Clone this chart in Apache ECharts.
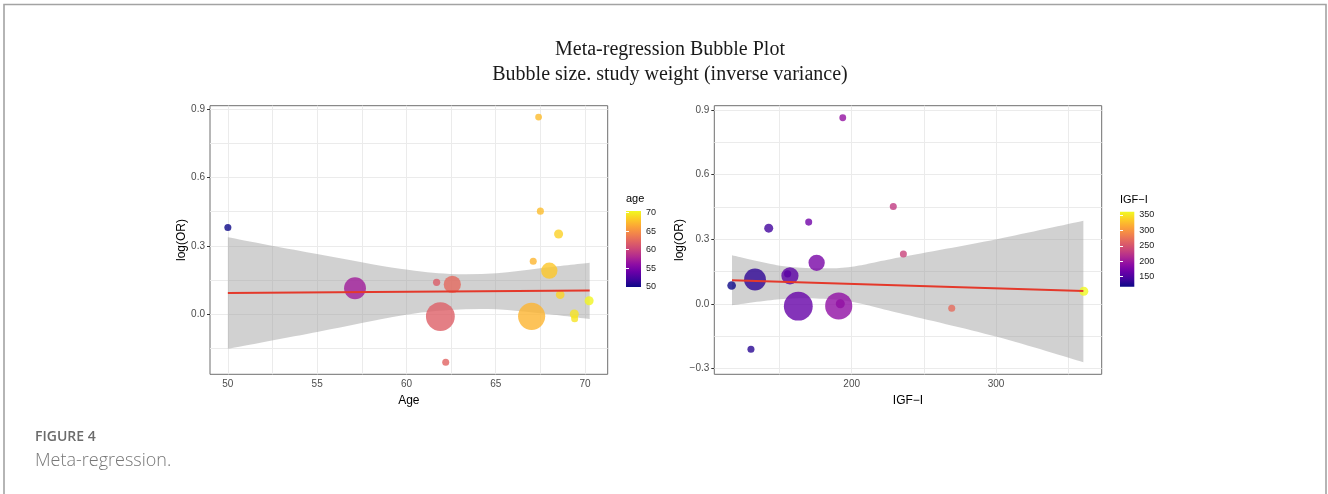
<!DOCTYPE html>
<html>
<head>
<meta charset="utf-8">
<title>Meta-regression Bubble Plot</title>
<script src="https://cdn.jsdelivr.net/npm/echarts@6/dist/echarts.min.js"></script>
<style>
  html, body { margin: 0; padding: 0; background: #fff; }
  #chart { width: 1328px; height: 494px; }
</style>
</head>
<body>
<div id="chart"></div>
<script>
// one entry per study, same order in both panels
const studyAge = [50.0, 57.12, 61.69, 62.57, 61.9, 62.2, 67.4, 67.5, 68.52, 67.1, 68.0, 68.61, 67.01, 69.4, 69.42, 70.23]
const studyIGF = [170.2, 133.0, 155.6, 157.2, 163.0, 130.2, 193.8, 228.8, 142.5, 235.8, 175.7, 116.8, 191.0, 192.1, 269.3, 360.8]
const studyLogOR = [0.38, 0.114, 0.140, 0.131, -0.010, -0.210, 0.864, 0.452, 0.352, 0.232, 0.191, 0.086, -0.009, 0.001, -0.020, 0.059]
const studyWeight = [3.1, 30, 3.3, 18.5, 52, 3.1, 2.9, 3.1, 5.1, 3.1, 16.6, 4.7, 46, 5.1, 3.1, 5.1]

// confidence band and fitted line
const ageBandX = [50, 55.07, 59.64, 62.44, 65.05, 67.48, 70.26]
const ageBandLow = [-0.151, -0.076, -0.006, 0.019, 0.022, 0.004, -0.021]
const ageBandHigh = [0.338, 0.263, 0.199, 0.177, 0.180, 0.202, 0.226]
const ageFitX = [50, 70.26]
const ageFitY = [0.093, 0.104]

const igfBandX = [117.05, 150.3, 178, 200, 233.5, 300.5, 360.5]
const igfBandLow = [-0.006, 0.022, 0.025, 0.011, -0.043, -0.152, -0.27]
const igfBandHigh = [0.226, 0.178, 0.166, 0.173, 0.217, 0.301, 0.386]
const igfFitX = [117.05, 360.5]
const igfFitY = [0.110, 0.060]

// ticks and grid lines
const ageTicks = [50, 55, 60, 65, 70]
const ageMinor = [52.5, 57.5, 62.5, 67.5]
const igfTicks = [200, 300]
const igfMinor = [150, 250, 350]
const logORTicks = [-0.3, 0, 0.3, 0.6, 0.9]
const logORMinor = [-0.15, 0.15, 0.45, 0.75]
const ageLegendTicks = [50, 55, 60, 65, 70]
const igfLegendTicks = [150, 200, 250, 300, 350]

const plasma = ['#0d0887', '#41049d', '#6a00a8', '#8f0da4', '#b12a90', '#cc4778',
  '#e16462', '#f2844b', '#fca636', '#fcce25', '#f0f921']

const FONT = 'Liberation Sans, Arial, sans-serif'
const fmt = v => (Math.abs(v) < 1e-9 ? 0 : v).toFixed(1).replace('-', '\u2212')

function panelAxis(grid, min, max, ticks, name, isY) {
  return {
    type: 'value', gridIndex: grid, min: min, max: max,
    name: name, nameLocation: 'middle', nameGap: isY ? 22 : 17,
    nameTextStyle: { fontFamily: FONT, fontSize: 12, color: '#000' },
    axisLine: { show: false },
    axisTick: { show: true, length: 3, customValues: ticks, lineStyle: { color: '#333' } },
    axisLabel: { customValues: ticks, margin: 5, fontFamily: FONT, fontSize: 10, color: '#4d4d4d',
      formatter: isY ? fmt : v => String(v) },
    splitLine: { show: false }
  }
}

function gridLines(xs, ys) {
  const data = []
  xs.forEach(v => data.push({ xAxis: v }))
  ys.forEach(v => data.push({ yAxis: v }))
  return {
    silent: true, z: 1, symbol: ['none', 'none'], animation: false,
    label: { show: false },
    lineStyle: { color: '#ebebeb', width: 1, type: 'solid' },
    emphasis: { disabled: true },
    data: data
  }
}

// smooth curve through pixel points (catmull-rom as bezier segments)
function curvePath(pts) {
  let d = ''
  for (let i = 0; i < pts.length - 1; i++) {
    const p0 = pts[Math.max(i - 1, 0)], p1 = pts[i], p2 = pts[i + 1], p3 = pts[Math.min(i + 2, pts.length - 1)]
    const c1 = [p1[0] + (p2[0] - p0[0]) / 6, p1[1] + (p2[1] - p0[1]) / 6]
    const c2 = [p2[0] - (p3[0] - p1[0]) / 6, p2[1] - (p3[1] - p1[1]) / 6]
    d += ' C' + c1.join(' ') + ' ' + c2.join(' ') + ' ' + p2.join(' ')
  }
  return d
}

// grey band: upper edge left to right, then lower edge back
function bandSeries(idx, xs, low, high) {
  return {
    type: 'custom', xAxisIndex: idx, yAxisIndex: idx, z: 2, silent: true,
    data: xs.map((v, i) => [v, low[i], high[i]]),
    encode: { x: 0, y: [1, 2] },
    renderItem: (params, api) => {
      if (params.dataIndex !== 0) return null
      const top = xs.map((v, i) => api.coord([v, high[i]]))
      const bottom = xs.map((v, i) => api.coord([v, low[i]])).reverse()
      const d = 'M' + top[0].join(' ') + curvePath(top) +
        ' L' + bottom[0].join(' ') + curvePath(bottom) + ' Z'
      return {
        type: 'path',
        shape: { pathData: d },
        style: { fill: 'rgba(153,153,153,0.45)', stroke: null }
      }
    }
  }
}

function pointSeries(idx, xs) {
  return {
    type: 'scatter', xAxisIndex: idx, yAxisIndex: idx, z: 3,
    data: xs.map((v, i) => [v, studyLogOR[i], studyWeight[i]]),
    symbolSize: v => 4 * Math.sqrt(v[2]),
    itemStyle: { opacity: 0.8 }
  }
}

function fitSeries(idx, xs, ys, xGrid, yGrid) {
  return {
    type: 'line', xAxisIndex: idx, yAxisIndex: idx, z: 4, silent: true,
    data: xs.map((v, i) => [v, ys[i]]),
    symbol: 'none', lineStyle: { color: '#e4392b', width: 2 },
    markLine: gridLines(xGrid, yGrid)
  }
}

function legendAxes(grid, min, max, ticks) {
  return [{
    type: 'value', gridIndex: grid, min: min, max: max, position: 'right',
    axisLine: { show: false }, splitLine: { show: false },
    axisTick: { show: true, inside: true, length: 3, customValues: ticks, lineStyle: { color: '#fff' } },
    axisLabel: { customValues: ticks, margin: 5, fontFamily: FONT, fontSize: 9, color: '#1a1a1a' }
  }, {
    type: 'value', gridIndex: grid, min: min, max: max, position: 'left',
    axisLine: { show: false }, splitLine: { show: false }, axisLabel: { show: false },
    axisTick: { show: true, inside: true, length: 3, customValues: ticks, lineStyle: { color: '#fff' } }
  }]
}

const barFill = () => new echarts.graphic.LinearGradient(0, 1, 0, 0,
  plasma.map((c, i) => ({ offset: i / (plasma.length - 1), color: c })))

const chart = echarts.init(document.getElementById('chart'))

chart.setOption({
  animation: false,
  backgroundColor: '#fff',
  grid: [
    { left: 210, top: 105.7, width: 397.7, height: 268.6, show: true, borderColor: '#6e6e6e', borderWidth: 1 },
    { left: 714.3, top: 105.7, width: 387.4, height: 268.6, show: true, borderColor: '#6e6e6e', borderWidth: 1 },
    { left: 626, top: 211, width: 15, height: 76, show: true, borderWidth: 0, backgroundColor: barFill() },
    { left: 1120, top: 211.7, width: 14.3, height: 75, show: true, borderWidth: 0, backgroundColor: barFill() }
  ],
  xAxis: [
    panelAxis(0, 49.0, 71.27, ageTicks, 'Age', false),
    panelAxis(1, 104.8, 373.2, igfTicks, 'IGF\u2212I', false),
    { type: 'value', gridIndex: 2, min: 0, max: 1, show: false },
    { type: 'value', gridIndex: 3, min: 0, max: 1, show: false }
  ],
  yAxis: [
    panelAxis(0, -0.263, 0.914, logORTicks, 'log(OR)', true),
    panelAxis(1, -0.326, 0.92, logORTicks, 'log(OR)', true)
  ].concat(legendAxes(2, 50, 70.4, ageLegendTicks), legendAxes(3, 117.6, 360.7, igfLegendTicks)),
  visualMap: [
    { type: 'continuous', show: false, seriesIndex: 1, dimension: 0, min: 50, max: 70.4, inRange: { color: plasma } },
    { type: 'continuous', show: false, seriesIndex: 4, dimension: 0, min: 117.6, max: 360.7, inRange: { color: plasma } }
  ],
  series: [
    bandSeries(0, ageBandX, ageBandLow, ageBandHigh),
    pointSeries(0, studyAge),
    fitSeries(0, ageFitX, ageFitY, ageTicks.concat(ageMinor), logORTicks.concat(logORMinor)),
    bandSeries(1, igfBandX, igfBandLow, igfBandHigh),
    pointSeries(1, studyIGF),
    fitSeries(1, igfFitX, igfFitY, igfTicks.concat(igfMinor), logORTicks.concat(logORMinor))
  ],
  graphic: [
    { type: 'polyline', silent: true, shape: { points: [[4, 494], [4, 4.5], [1326, 4.5], [1326, 494]] },
      style: { fill: null, stroke: '#a3a3a3', lineWidth: 1.6 } },
    { type: 'text', x: 670, y: 50, silent: true,
      style: { text: 'Meta-regression Bubble Plot', align: 'center', verticalAlign: 'middle',
        font: '20px "Liberation Serif", serif', fill: '#1a1a1a' } },
    { type: 'text', x: 670, y: 75, silent: true,
      style: { text: 'Bubble size. study weight (inverse variance)', align: 'center', verticalAlign: 'middle',
        font: '20px "Liberation Serif", serif', fill: '#1a1a1a' } },
    { type: 'text', x: 626, y: 199, silent: true,
      style: { text: 'age', verticalAlign: 'middle', font: '11px ' + FONT, fill: '#000' } },
    { type: 'text', x: 1120, y: 200, silent: true,
      style: { text: 'IGF\u2212I', verticalAlign: 'middle', font: '11px ' + FONT, fill: '#000' } },
    { type: 'text', x: 35, y: 437, silent: true,
      style: { text: 'FIGURE 4', verticalAlign: 'middle', font: '600 14px "Open Sans", sans-serif', fill: '#6b6b6b' } },
    { type: 'text', x: 35, y: 461, silent: true,
      style: { text: 'Meta-regression.', verticalAlign: 'middle', font: '300 18px "Open Sans", sans-serif', fill: '#777' } }
  ]
})
</script>
</body>
</html>
